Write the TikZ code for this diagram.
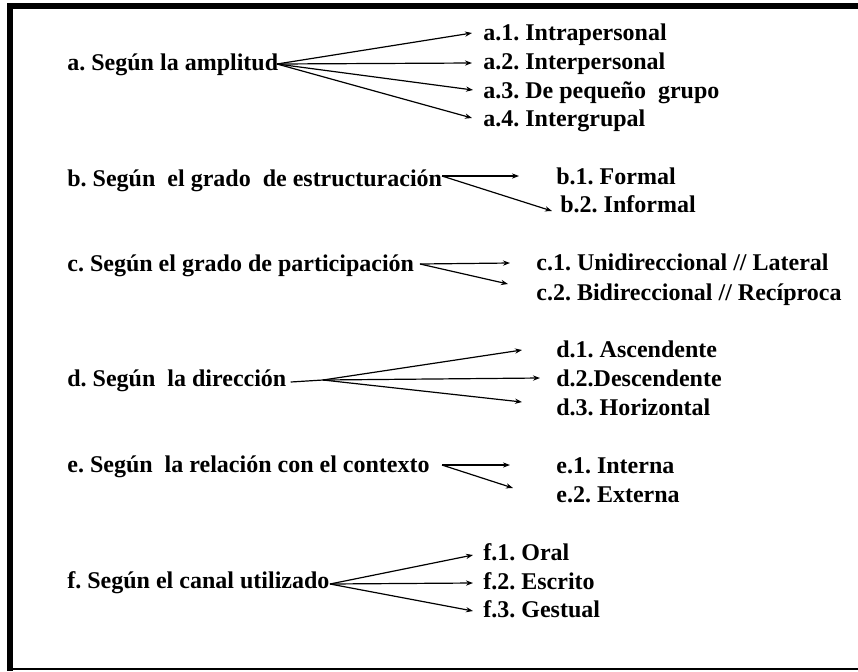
\documentclass[tikz,border=0pt]{standalone}
\usepackage{fontspec}
\setmainfont{Liberation Serif}[BoldFont={Liberation Serif Bold}]
\frenchspacing
\usetikzlibrary{arrows.meta,calc}
\begin{document}
\begin{tikzpicture}[x=0.5pt,y=-0.5pt,
  lbl/.style={anchor=base west,inner sep=0pt,font=\fontsize{12}{14}\selectfont\bfseries},
  arr/.style={-{Stealth[length=3.5pt,width=2.6pt]},line width=0.6pt},
  lnk/.style={line width=0.6pt}]
\useasboundingbox (0,0) rectangle (858,671);
% frame: heavy top and left rules, thin bottom rule
\fill (7,3) rectangle (858,9);
\fill (7,3) rectangle (13,671);
\fill (13,668) rectangle (858,670);

% a. amplitude
\node[lbl] (la) at (67,70) {a. Según la amplitud};
\node[lbl] (a1) at (483,40) {a.1. Intrapersonal};
\node[lbl] (a2) at (483,69) {a.2. Interpersonal};
\node[lbl] (a3) at (483,98) {a.3. De pequeño\ \ grupo};
\node[lbl] (a4) at (483,126) {a.4. Intergrupal};
\coordinate (ha) at (277,64);
\draw[arr] (ha) -- ($(a1.base west)+(-11,-7)$);
\draw[arr] (ha) -- ($(a2.base west)+(-11,-6)$);
\draw[arr] (ha) -- ($(a3.base west)+(-10,-8)$);
\draw[arr] (ha) -- ($(a4.base west)+(-11,-8)$);

% b. structure
\node[lbl] (lb) at (67,186) {b. Según\ \ el grado\ \ de estructuración};
\node[lbl] (b1) at (556,184) {b.1. Formal};
\node[lbl] (b2) at (560,212) {b.2. Informal};
\coordinate (hb) at (442,176);
\draw[arr] (hb) -- ($(b1.base west)+(-37,-8)$);
\draw[arr] (hb) -- ($(b2.base west)+(-8,-1)$);

% c. participation
\node[lbl] (lc) at (67,271) {c. Según el grado de participación};
\node[lbl] (c1) at (536,270) {c.1. Unidireccional // Lateral};
\node[lbl] (c2) at (536,300) {c.2. Bidireccional // Recíproca};
\coordinate (hc) at (420,264);
\draw[arr] (hc) -- ($(c1.base west)+(-26,-7)$);
\draw[arr] (hc) -- ($(c2.base west)+(-28,-16)$);

% d. direction
\node[lbl] (ld) at (67,386) {d. Según\ \ la dirección};
\node[lbl] (d1) at (556,357) {d.1. Ascendente};
\node[lbl] (d2) at (556,386) {d.2.Descendente};
\node[lbl] (d3) at (556,415) {d.3. Horizontal};
\coordinate (hd) at (323,380);
\draw[lnk] ($(ld.base east)+(4,-4)$) -- (hd);
\draw[arr] (hd) -- ($(d1.base west)+(-34,-7)$);
\draw[arr] (hd) -- ($(d2.base west)+(-16,-8)$);
\draw[arr] (hd) -- ($(d3.base west)+(-34,-13)$);

% e. context
\node[lbl] (le) at (67,472) {e. Según\ \ la relación con el contexto};
\node[lbl] (e1) at (556,473) {e.1. Interna};
\node[lbl] (e2) at (556,502) {e.2. Externa};
\coordinate (he) at (442,465);
\draw[arr] (he) -- ($(e1.base west)+(-46,-8)$);
\draw[arr] (he) -- ($(e2.base west)+(-43,-14)$);

% f. channel
\node[lbl] (lf) at (67,588) {f. Según el canal utilizado};
\node[lbl] (f1) at (483,560) {f.1. Oral};
\node[lbl] (f2) at (483,589) {f.2. Escrito};
\node[lbl] (f3) at (483,617) {f.3. Gestual};
\coordinate (hf) at (330,584);
\draw[arr] (hf) -- ($(f1.base west)+(-10,-5)$);
\draw[arr] (hf) -- ($(f2.base west)+(-10,-6)$);
\draw[arr] (hf) -- ($(f3.base west)+(-10,-6)$);
\end{tikzpicture}
\end{document}
